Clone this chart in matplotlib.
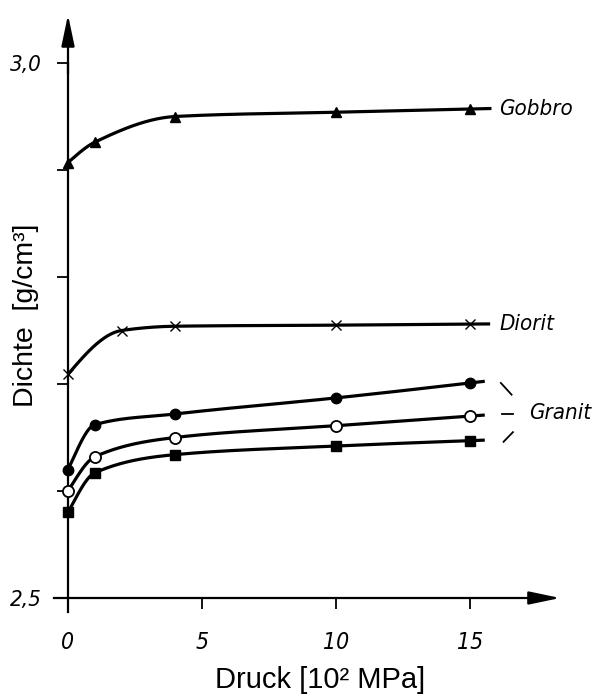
import numpy as np
import matplotlib.pyplot as plt

# Druck in 10^2 MPa
druck = [0, 1, 4, 10, 15]
druck_diorit = [0, 2, 4, 10, 15]

# Dichte in g/cm^3
gobbro = [2.907, 2.926, 2.950, 2.954, 2.957]
diorit = [2.709, 2.750, 2.754, 2.755, 2.756]
granit_a = [2.620, 2.662, 2.672, 2.687, 2.701]   # gefuellte Kreise
granit_b = [2.600, 2.632, 2.650, 2.661, 2.670]   # offene Kreise
granit_c = [2.580, 2.617, 2.634, 2.642, 2.647]   # Quadrate

xticks = [0, 5, 10, 15]
xticklabels = ['0', '5', '10', '15']
yticks = [2.5, 2.6, 2.7, 2.8, 2.9, 3.0]
yticklabels = ['2,5', '', '', '', '', '3,0']


def pchip(x, y, xn):
    # monotone kubische Interpolation (Fritsch-Carlson)
    x = np.asarray(x, float)
    y = np.asarray(y, float)
    h = np.diff(x)
    d = np.diff(y) / h
    m = np.zeros_like(y)
    for k in range(1, len(x) - 1):
        if d[k - 1] * d[k] > 0:
            w1 = 2 * h[k] + h[k - 1]
            w2 = h[k] + 2 * h[k - 1]
            m[k] = (w1 + w2) / (w1 / d[k - 1] + w2 / d[k])
    m[0] = ((2 * h[0] + h[1]) * d[0] - h[0] * d[1]) / (h[0] + h[1])
    if np.sign(m[0]) != np.sign(d[0]):
        m[0] = 0
    m[-1] = ((2 * h[-1] + h[-2]) * d[-1] - h[-1] * d[-2]) / (h[-1] + h[-2])
    if np.sign(m[-1]) != np.sign(d[-1]):
        m[-1] = 0
    xn = np.asarray(xn, float)
    i = np.clip(np.searchsorted(x, xn) - 1, 0, len(x) - 2)
    t = (xn - x[i]) / h[i]
    h00 = 2 * t**3 - 3 * t**2 + 1
    h10 = t**3 - 2 * t**2 + t
    h01 = -2 * t**3 + 3 * t**2
    h11 = t**3 - t**2
    return h00 * y[i] + h10 * h[i] * m[i] + h01 * y[i + 1] + h11 * h[i] * m[i + 1]


def curve(ax, x, y, x_end, marker, ms, mfc='k'):
    xs = np.linspace(x[0], x[-1], 300)
    ys = pchip(x, y, xs)
    slope = (y[-1] - y[-2]) / (x[-1] - x[-2])
    xs = np.append(xs, x_end)
    ys = np.append(ys, y[-1] + slope * (x_end - x[-1]))
    ax.plot(xs, ys, color='k', lw=2.3, solid_capstyle='butt', zorder=3)
    ax.plot(x, y, ls='none', marker=marker, ms=ms, mfc=mfc, mec='k',
            mew=1.3 if mfc != 'k' else 1.0, zorder=4)


fig = plt.figure(figsize=(6.01, 6.98), dpi=100)
ax = fig.add_axes([0.02396, 0.06662, 0.9588, 0.92743])
ax.set_xlim(-2, 19.5)
ax.set_ylim(2.45, 3.055)

lab = dict(family=['DejaVu Sans'], style='italic', stretch='condensed')

curve(ax, druck, gobbro, 15.8, '^', 7.5)
curve(ax, druck_diorit, diorit, 15.75, 'x', 6.5)
curve(ax, druck, granit_a, 15.55, 'o', 7.5)
curve(ax, druck, granit_b, 15.55, 'o', 8, mfc='white')
curve(ax, druck, granit_c, 15.55, 's', 6.5)

ax.text(16.1, gobbro[-1], 'Gobbro', fontsize=16, va='center', ha='left', **lab)
ax.text(16.1, diorit[-1], 'Diorit', fontsize=16, va='center', ha='left', **lab)
ax.text(17.2, granit_b[-1] + 0.003, 'Granit', fontsize=16, va='center', ha='left', **lab)

# Klammerstriche zu Granit
ax.plot([16.15, 16.55], [granit_a[-1], granit_a[-1] - 0.011], color='k', lw=1.3)
ax.plot([16.2, 16.6], [granit_b[-1] + 0.002, granit_b[-1] + 0.002], color='k', lw=1.3)
ax.plot([16.25, 16.6], [granit_c[-1] - 0.001, granit_c[-1] + 0.008], color='k', lw=1.3)

# Achsen mit Pfeilen
for s in ['top', 'right']:
    ax.spines[s].set_visible(False)
ax.spines['left'].set_position(('data', 0))
ax.spines['bottom'].set_position(('data', 2.5))
ax.spines['left'].set_bounds(2.487, 3.0)
ax.spines['bottom'].set_bounds(-0.52, 18.0)
ax.spines['left'].set_linewidth(1.6)
ax.spines['bottom'].set_linewidth(1.6)

arrow = dict(arrowstyle='-|>,head_length=1.9,head_width=0.4', color='k',
             lw=1.6, mutation_scale=10, shrinkA=0, shrinkB=0)
ax.annotate('', xy=(0, 3.045), xytext=(0, 2.99), arrowprops=arrow)
ax.annotate('', xy=(18.36, 2.5), xytext=(17.9, 2.5), arrowprops=arrow)

ax.set_xticks(xticks)
ax.set_xticklabels(xticklabels, fontsize=16.5, **lab)
ax.set_yticks(yticks)
ax.set_yticklabels(yticklabels, fontsize=16, **lab)
ax.tick_params(axis='x', direction='out', length=8, width=1.3, pad=16)
ax.tick_params(axis='y', direction='out', length=8, width=1.3, pad=11)

ax.text(-1.55, 2.764, 'Dichte  [g/cm³]', rotation=90, fontsize=20.5,
        family='Liberation Sans', ha='center', va='center')
ax.text(9.4, 2.4234, 'Druck [10² MPa]', fontsize=21,
        family='Liberation Sans', ha='center', va='center')

fig.savefig('out.png', dpi=100)
